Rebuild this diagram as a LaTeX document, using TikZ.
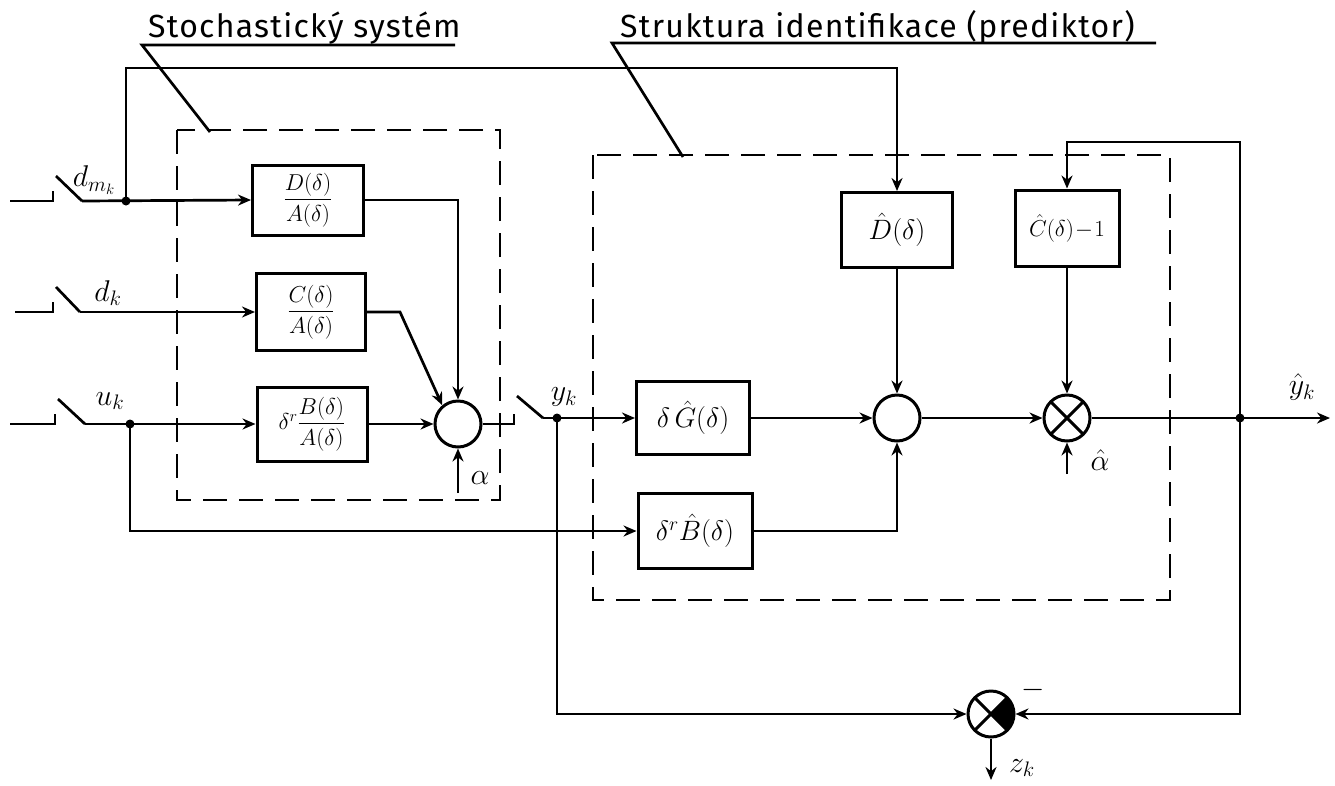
\RequirePackage{fix-cm}
\documentclass[tikz,border=0pt]{standalone}
\usepackage{amsmath}
\usepackage{fontspec}
\newfontfamily\titlefont[LetterSpace=4]{Fira Sans}
\usetikzlibrary{arrows.meta}
\begin{document}
\begin{tikzpicture}[x=1pt,y=-1pt,
  ln/.style={line width=2.7pt},
  arr/.style={line width=2.7pt,-{Stealth[length=13pt,width=11pt]}},
  blk/.style={draw,line width=3pt,inner sep=0pt,font=\fontsize{23}{27}\selectfont},
  bigt/.style={font=\fontsize{28}{32}\selectfont},
  sumc/.style={circle,draw,line width=3pt,minimum size=46pt,inner sep=0pt},
  multc/.style={sumc,path picture={\draw[line width=3pt] (path picture bounding box.south west)--(path picture bounding box.north east) (path picture bounding box.north west)--(path picture bounding box.south east);}},
  cmpc/.style={sumc,path picture={\fill (path picture bounding box.center) -- ++(40pt,40pt) -- ++(0pt,-80pt) -- cycle;\draw[line width=3pt] (path picture bounding box.south west)--(path picture bounding box.north east) (path picture bounding box.north west)--(path picture bounding box.south east);}},
  dbox/.style={line width=2.6pt,dash pattern=on 24pt off 12pt},
  lbl/.style={font=\fontsize{30}{34}\selectfont,inner sep=0pt},
  ttl/.style={font=\titlefont\fontsize{32}{36}\selectfont,inner sep=0pt,anchor=base west},
  jdot/.style={circle,fill,inner sep=0pt,minimum size=9pt}
]
\useasboundingbox (0,0) rectangle (1335,785);

% titles
\node[ttl] (t1) at (148,37) {Stochastický systém};
\node[ttl] (t2) at (620,37) {Struktura identifikace (prediktor)};
\draw[ln] (455,45) -- (142,45) -- (210,132);
\draw[ln] (1156,43) -- (612,43) -- (683,157);

% dashed boxes
\draw[dbox] (177,130) rectangle (500,500);
\draw[dbox] (593,155) rectangle (1170,600);

% blocks
\node[blk,minimum width=111pt,minimum height=70pt] (DA) at (308,200) {$\dfrac{D(\delta)}{A(\delta)}$};
\node[blk,minimum width=109pt,minimum height=77pt] (CA) at (311,312) {$\dfrac{C(\delta)}{A(\delta)}$};
\node[blk,minimum width=110pt,minimum height=74pt] (BA) at (312,424) {$\delta^{r}\dfrac{B(\delta)}{A(\delta)}$};
\node[sumc] (S1) at (458,424) {};

\node[blk,bigt,minimum width=113pt,minimum height=73pt] (G) at (693,418) {$\delta\,\hat{G}(\delta)$};
\node[blk,bigt,minimum width=114pt,minimum height=75pt] (B) at (695,531) {$\delta^{r}\hat{B}(\delta)$};
\node[blk,bigt,minimum width=111pt,minimum height=75pt] (D) at (897,230) {$\hat{D}(\delta)$};
\node[blk,minimum width=104pt,minimum height=76pt] (C) at (1067,228) {$\hat{C}(\delta)\!-\!1$};
\node[sumc] (S2) at (897,418) {};
\node[multc] (M) at (1067,418) {};
\node[cmpc] (K) at (991,714) {};

% switches and inputs
\draw[ln] (10,201) -- (53,201) -- (53,191);
\draw[ln] (56,176) -- (82,201);
\coordinate (sw1) at (82,201);
\draw[ln] (15,312) -- (53,312) -- (53,302);
\draw[ln] (56,287) -- (80,312);
\coordinate (sw2) at (80,312);
\draw[ln] (10,424) -- (55,424) -- (55,414);
\draw[ln] (58,399) -- (85,424);
\coordinate (sw3) at (85,424);

\node[jdot] (j1) at (126,201) {};
\node[jdot] (j3) at (130,424) {};
\draw[arr] (sw1) -- (DA.west);
\draw[arr] (sw2) -- (CA.west);
\draw[arr] (sw3) -- (BA.west);
\coordinate (t1c) at (126,68);
\draw[arr] (j1.center) -- (t1c) -| (D.north);

% into S1
\draw[arr] (DA.east) -| (S1.north);
\coordinate (ca1) at (400,312);
\draw[arr] (CA.east) -- (ca1) -- (S1.130);
\draw[arr] (BA.east) -- (S1.west);
\coordinate (al) at (458,493);
\draw[arr] (al) -- (S1.south);
\node[lbl] (alab) at (480,478) {$\alpha$};

% S1 output and y_k switch
\coordinate (s1o) at (514,424);
\draw[ln] (S1.east) -- (s1o) -- (514,414);
\draw[ln] (517,396) -- (543,418);
\coordinate (sw4) at (543,418);
\node[jdot] (j2) at (557,418) {};
\draw[arr] (sw4) -- (G.west);

% right part
\draw[arr] (j3.center) |- (B.west);
\draw[arr] (G.east) -- (S2.west);
\draw[arr] (B.east) -| (S2.south);
\draw[arr] (D.south) -- (S2.north);
\draw[arr] (S2.east) -- (M.west);
\draw[arr] (C.south) -- (M.north);
\coordinate (ah) at (1067,474);
\draw[arr] (ah) -- (M.south);
\node[lbl] (ahlab) at (1100,460) {$\hat{\alpha}$};

\node[jdot] (j4) at (1240,418) {};
\coordinate (yend) at (1330,418);
\draw[arr] (M.east) -- (yend);
\coordinate (tc) at (1240,142);
\draw[arr] (j4.center) -- (tc) -| (C.north);
\draw[arr] (j4.center) |- (K.east);
\draw[arr] (j2.center) |- (K.west);
\coordinate (zend) at (991,780);
\draw[arr] (K.south) -- (zend);

% labels
\node[lbl] (ldm) at (94,180) {$d_{m_k}$};
\node[lbl] (ldk) at (108,293) {$d_k$};
\node[lbl] (luk) at (110,401) {$u_k$};
\node[lbl] (lyk) at (564,397) {$y_k$};
\node[lbl] (lyh) at (1302,387) {$\hat{y}_k$};
\node[lbl] (lzk) at (1022,768) {$z_k$};
\node[lbl] (lmin) at (1033,690) {$-$};
\end{tikzpicture}
\end{document}
